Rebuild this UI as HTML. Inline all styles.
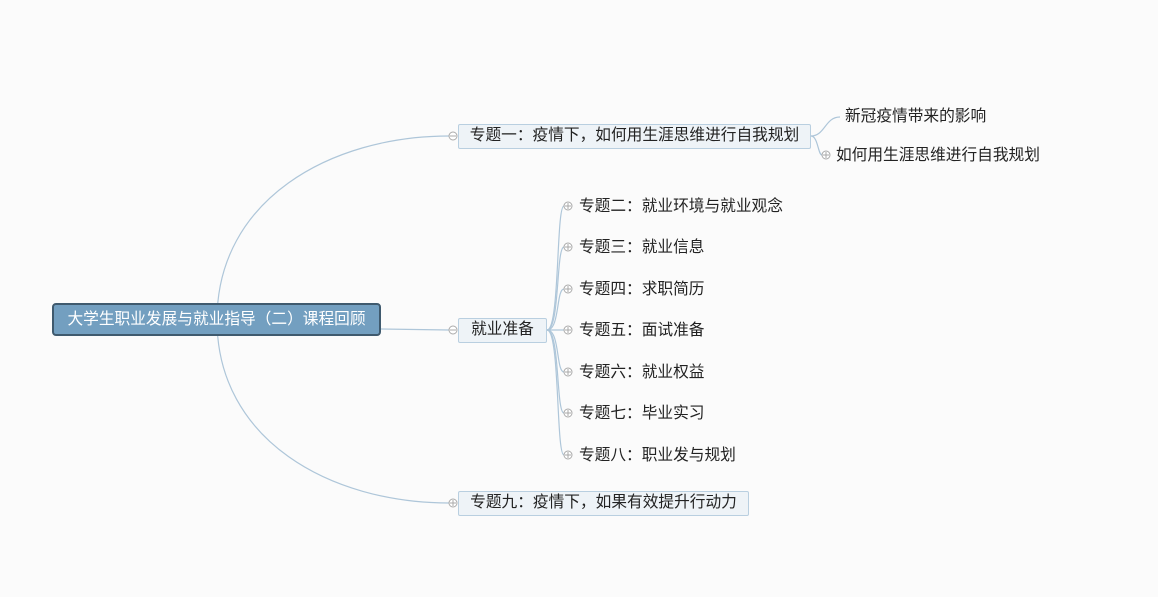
<!DOCTYPE html>
<html><head><meta charset="utf-8"><style>
body{margin:0;width:1158px;height:597px;background:#fbfbfb;overflow:hidden;font-family:"Liberation Sans","Noto Sans CJK SC",sans-serif;position:relative}
.b{position:absolute;box-sizing:border-box;font-size:15.7px;color:#222;white-space:nowrap}
.t{background:#eef3f7;border:1px solid #b9cfe0;border-radius:2px;text-align:center;line-height:22px}
.l{line-height:20px}
</style></head><body>
<svg width="1158" height="597" style="position:absolute;left:0;top:0">
<g fill="none" stroke="#aec6d9" stroke-width="1.2">
<path d="M217,320 C217,200 330,136 449,136"/>
<path d="M217,320 C217,440 330,503 449,503"/>
<path d="M380,329 L449,330"/>
<path d="M547,330 C560,330 556,206 564,206"/>
<path d="M547,330 C560,330 556,247 564,247"/>
<path d="M547,330 C560,330 556,289 564,289"/>
<path d="M547,330 L564,330"/>
<path d="M547,330 C560,330 556,372 564,372"/>
<path d="M547,330 C560,330 556,413 564,413"/>
<path d="M547,330 C560,330 556,455 564,455"/>
<path d="M811,136 C825,136 825,117 840,117"/>
<path d="M811,136 C818,136 818,155 822,155"/>
</g>
<g fill="#fff" stroke="#aaa" stroke-width="1">
<circle cx="453" cy="136" r="4"/><circle cx="453" cy="330" r="4"/><circle cx="453" cy="503" r="4"/>
<circle cx="568" cy="206" r="4"/><circle cx="568" cy="247" r="4"/><circle cx="568" cy="289" r="4"/><circle cx="568" cy="330" r="4"/><circle cx="568" cy="372" r="4"/><circle cx="568" cy="413" r="4"/><circle cx="568" cy="455" r="4"/>
<circle cx="826" cy="155" r="4"/>
</g>
<g stroke="#aaa" stroke-width="1">
<path d="M450,136h6M450,330h6M450,503h6M453,500v6"/>
<path d="M565,206h6M568,203v6M565,247h6M568,244v6M565,289h6M568,286v6M565,330h6M568,327v6M565,372h6M568,369v6M565,413h6M568,410v6M565,455h6M568,452v6M823,155h6M826,152v6"/>
</g>
</svg>
<div class="b" style="left:52px;top:303px;width:329px;height:33px;background:#739fc0;border:2px solid #3f5a6e;border-radius:4px;color:#fff;text-align:center;line-height:29px">大学生职业发展与就业指导（二）课程回顾</div>
<div class="b t" style="left:458px;top:124px;width:353px;height:25px">专题一：疫情下，如何用生涯思维进行自我规划</div>
<div class="b t" style="left:458px;top:318px;width:89px;height:25px">就业准备</div>
<div class="b t" style="left:458px;top:491px;width:291px;height:25px">专题九：疫情下，如果有效提升行动力</div>
<div class="b l" style="left:845px;top:107px">新冠疫情带来的影响</div>
<div class="b l" style="left:836px;top:146px">如何用生涯思维进行自我规划</div>
<div class="b l" style="left:579px;top:197px">专题二：就业环境与就业观念</div>
<div class="b l" style="left:579px;top:238px">专题三：就业信息</div>
<div class="b l" style="left:579px;top:280px">专题四：求职简历</div>
<div class="b l" style="left:579px;top:321px">专题五：面试准备</div>
<div class="b l" style="left:579px;top:363px">专题六：就业权益</div>
<div class="b l" style="left:579px;top:404px">专题七：毕业实习</div>
<div class="b l" style="left:579px;top:446px">专题八：职业发与规划</div>
</body></html>
